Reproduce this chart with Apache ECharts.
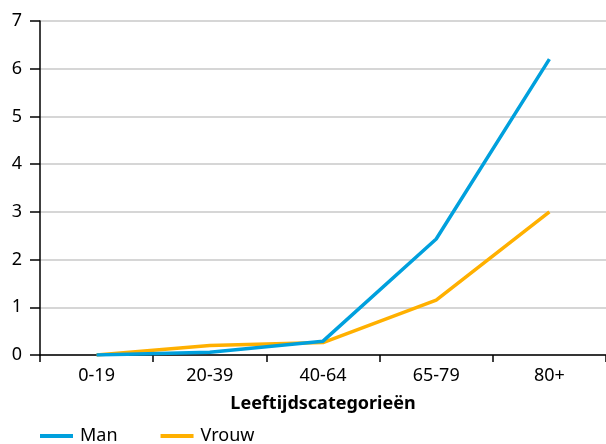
<!DOCTYPE html>
<html>
<head>
<meta charset="utf-8">
<script src="https://cdn.jsdelivr.net/npm/echarts@6/dist/echarts.min.js"></script>
<style>
  html, body { margin: 0; padding: 0; background: #fff; }
  #chart { width: 606px; height: 444px; }
</style>
</head>
<body>
<div id="chart"></div>
<script>
// leeftijdscategorieën
const categories = ['0-19', '20-39', '40-64', '65-79', '80+'];
const man = [0, 0.06, 0.29, 2.43, 6.2];
const vrouw = [0, 0.2, 0.26, 1.15, 3.0];

const chart = echarts.init(document.getElementById('chart'));
const font = 'Noto Sans';

chart.setOption({
  animation: false,
  grid: { left: 40, right: 0, top: 21, bottom: 89 },
  legend: {
    left: 40,
    top: 427,
    padding: 0,
    icon: 'rect',
    itemWidth: 33,
    itemHeight: 4,
    itemGap: 43,
    textStyle: { fontFamily: font, fontSize: 18, color: '#000', padding: [0, 0, 0, 2] },
    data: ['Man', 'Vrouw']
  },
  xAxis: {
    type: 'category',
    data: categories,
    boundaryGap: true,
    name: 'Leeftijdscategorieën',
    nameLocation: 'middle',
    nameGap: 40,
    nameTextStyle: { fontFamily: font, fontSize: 18, fontWeight: 'bold', color: '#000' },
    axisLine: { lineStyle: { color: '#000', width: 1.5 } },
    axisTick: { show: true, length: 7, lineStyle: { color: '#000', width: 1.5 } },
    axisLabel: { fontFamily: font, fontSize: 18, color: '#000', margin: 12 }
  },
  yAxis: {
    type: 'value',
    min: 0,
    max: 7,
    interval: 1,
    axisLine: { show: true, lineStyle: { color: '#000', width: 1.5 } },
    axisTick: { show: true, inside: false, length: 10, lineStyle: { color: '#000', width: 1.5 } },
    axisLabel: { fontFamily: font, fontSize: 18, color: '#000', margin: 18 },
    splitLine: { lineStyle: { color: '#c8c8c8', width: 1.5 } }
  },
  series: [
    {
      name: 'Man',
      type: 'line',
      data: man,
      symbol: 'none',
      color: '#00a0dd',
      lineStyle: { width: 3.5, color: '#00a0dd' }
    },
    {
      name: 'Vrouw',
      type: 'line',
      data: vrouw,
      symbol: 'none',
      color: '#ffb000',
      lineStyle: { width: 3.5, color: '#ffb000' },
      z: 1
    }
  ]
});
</script>
</body>
</html>
